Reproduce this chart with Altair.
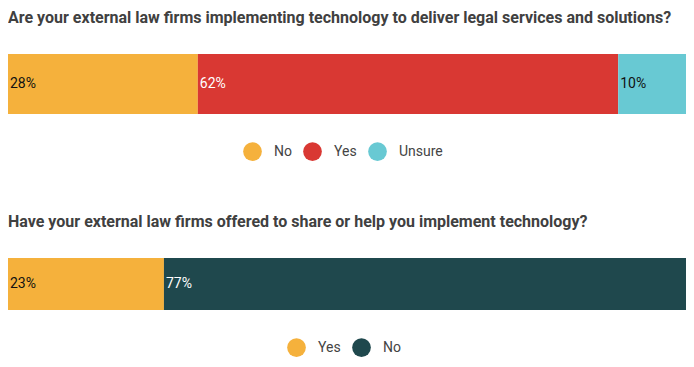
import altair as alt
import pandas as pd

# ---- data ----
q1_title = "Are your external law firms implementing technology to deliver legal services and solutions?"
q1_cats = ["No", "Yes", "Unsure"]
q1_vals = [28, 62, 10]
q1_colors = ["#F5B13C", "#D93833", "#68C9D3"]

q2_title = "Have your external law firms offered to share or help you implement technology?"
q2_cats = ["Yes", "No"]
q2_vals = [23, 77]
q2_colors = ["#F5B13C", "#1F484D"]

W = 678
FONT = "Roboto"


def panel(title, cats, vals, colors, white_cat, h, legend_x, legend_y):
    df = pd.DataFrame({
        "q": ["q"] * len(cats),
        "cat": cats,
        "value": vals,
        "idx": list(range(len(cats))),
    })
    base = alt.Chart(df).transform_stack(
        stack="value", groupby=["q"], as_=["x0", "x1"],
        sort=[alt.SortField("idx", order="ascending")],
    )
    xs = alt.Scale(domain=[0, 100], nice=False, zero=True)
    ys = alt.Y("q:N", axis=None, scale=alt.Scale(paddingInner=0, paddingOuter=0))
    bars = base.mark_bar(cornerRadius=0).encode(
        x=alt.X("x0:Q", scale=xs, axis=None),
        x2="x1:Q",
        y=ys,
        color=alt.Color(
            "cat:N",
            scale=alt.Scale(domain=cats, range=colors),
            legend=alt.Legend(
                title=None, orient="none", direction="horizontal",
                legendX=legend_x, legendY=legend_y,
                symbolType="circle", symbolSize=350, symbolStrokeWidth=0,
                symbolOpacity=1,
                labelFontSize=14, labelFont=FONT, labelColor="#444444",
                labelOffset=12, columnPadding=11, padding=0,
            ),
        ),
    )
    labels = base.mark_text(align="left", baseline="middle", dx=2,
                            font=FONT, fontSize=14).encode(
        x=alt.X("x0:Q", scale=xs, axis=None),
        y=ys,
        color=alt.condition(alt.datum.cat == white_cat,
                            alt.value("white"), alt.value("#111111")),
    ).transform_calculate(label="datum.value + '%'").encode(text="label:N")
    return alt.layer(bars, labels).properties(
        width=W, height=h,
        title=alt.TitleParams(
            title, anchor="start", fontSize=16, fontWeight="bold",
            font=FONT, color="#404040", offset=12, baseline="bottom",
        ),
    ).resolve_scale(color="independent")


p1 = panel(q1_title, q1_cats, q1_vals, q1_colors, "Yes", 60, 235, 88)
p2 = panel(q2_title, q2_cats, q2_vals, q2_colors, "No", 52, 279, 80)

chart = alt.vconcat(p1, p2, spacing=53).resolve_scale(color="independent").properties(
    padding={"left": 0, "top": 2, "right": 0, "bottom": 0}
).configure_view(stroke=None)

chart.save("out.html", embed_options={"renderer": "svg", "actions": False})
